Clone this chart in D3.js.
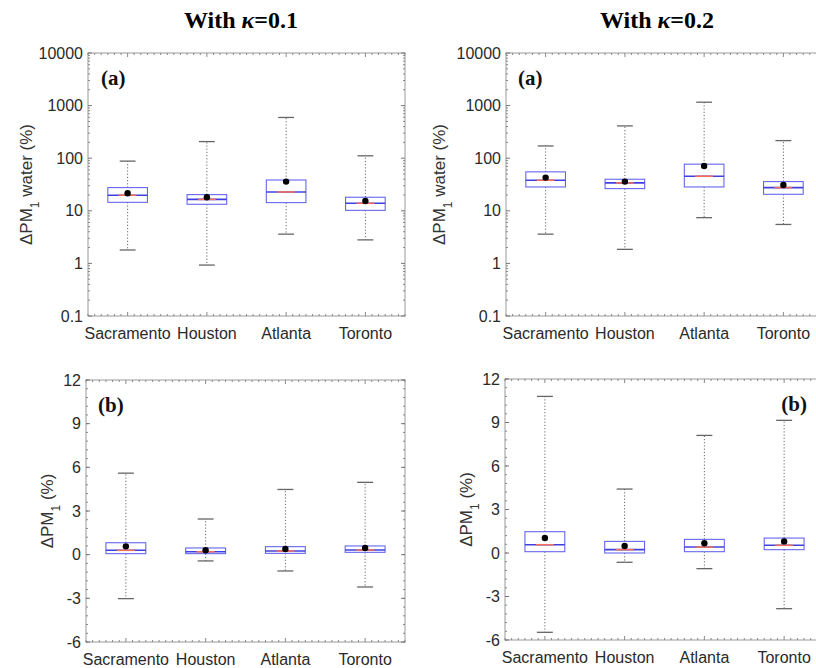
<!DOCTYPE html>
<html>
<head>
<meta charset="utf-8">
<script src="https://cdn.jsdelivr.net/npm/d3@7"></script>
<style>
	body { margin: 0; background: #fff; }
	svg { display: block; }
	.tick-label { font-family: "Liberation Sans", Arial, sans-serif; font-size: 16px; fill: #2a2a2a; }
	.ytitle { font-family: "Liberation Sans", Arial, sans-serif; font-size: 17px; fill: #333; }
	.title { font-family: "Liberation Serif", "Times New Roman", serif; font-size: 24px; font-weight: bold; fill: #000; }
	.plabel { font-family: "Liberation Serif", "Times New Roman", serif; font-size: 21px; font-weight: bold; fill: #111; }
</style>
</head>
<body>
<svg id="chart" width="816" height="668"></svg>
<script>
var cities = ["Sacramento", "Houston", "Atlanta", "Toronto"];

// panel (a): ΔPM1 water (%), log axis
var logTicks = [0.1, 1, 10, 100, 1000, 10000];
// [lower whisker, q1, median, q3, upper whisker, mean]
var waterK01 = [
	[1.8, 14.5, 19.8, 27.6, 88, 21.6],
	[0.93, 13.3, 16.5, 20.3, 207, 18.1],
	[3.6, 14.3, 22.8, 38.5, 595, 35.9],
	[2.8, 10.2, 13.9, 18.1, 111, 15.4]
];
var waterK02 = [
	[3.6, 28.4, 38.1, 55, 171, 42.8],
	[1.85, 26.4, 33.9, 39.8, 411, 35.9],
	[7.4, 28.4, 45.4, 77, 1160, 71.3],
	[5.5, 20.6, 27.6, 35.9, 216, 31.0]
];

// panel (b): ΔPM1 (%), linear axis
var linTicks = [-6, -3, 0, 3, 6, 9, 12];
var pmK01 = [
	[-3.02, 0.07, 0.3, 0.82, 5.6, 0.57],
	[-0.43, 0.07, 0.2, 0.46, 2.45, 0.3],
	[-1.12, 0.09, 0.25, 0.55, 4.48, 0.39],
	[-2.22, 0.16, 0.32, 0.6, 4.97, 0.46]
];
var pmK02 = [
	[-5.47, 0.09, 0.57, 1.47, 10.8, 1.03],
	[-0.64, 0.0, 0.23, 0.8, 4.41, 0.48],
	[-1.08, 0.09, 0.41, 0.94, 8.11, 0.67],
	[-3.84, 0.23, 0.53, 1.03, 9.15, 0.8]
];

var svg = d3.select("#chart");

function drawPanel(p) {
	var g = svg.append("g");
	var x = d3.scaleLinear().domain([0.5, 4.5]).range([p.x0, p.x1]);
	var y = p.log
		? d3.scaleLog().domain([0.1, 10000]).range([p.y1, p.y0])
		: d3.scaleLinear().domain([-6, 12]).range([p.y1, p.y0]);

	// frame
	g.append("rect")
		.attr("x", p.x0).attr("y", p.y0)
		.attr("width", p.x1 - p.x0).attr("height", p.y1 - p.y0)
		.attr("fill", "none").attr("stroke", "#9a9a9a").attr("stroke-width", 1);

	// minor ticks on x (top and bottom)
	var xMinor = d3.range(0.5, 4.5001, 1 / 12);
	xMinor.forEach(function(v) {
		var major = Math.abs(v - Math.round(v)) < 1e-6;
		var len = major ? 4 : 2;
		g.append("line").attr("x1", x(v)).attr("x2", x(v))
			.attr("y1", p.y1).attr("y2", p.y1 - len).attr("stroke", "#888");
		g.append("line").attr("x1", x(v)).attr("x2", x(v))
			.attr("y1", p.y0).attr("y2", p.y0 + len).attr("stroke", "#888");
	});

	// y ticks
	var yMajor = p.log ? logTicks : linTicks;
	var yMinor = [];
	if (p.log) {
		for (var e = -1; e < 4; e++)
			for (var k = 2; k < 10; k++) yMinor.push(k * Math.pow(10, e));
	} else {
		yMinor = d3.range(-6, 12.001, 0.6);
	}
	yMinor.forEach(function(v) {
		g.append("line").attr("x1", p.x0).attr("x2", p.x0 + 2)
			.attr("y1", y(v)).attr("y2", y(v)).attr("stroke", "#888");
		g.append("line").attr("x1", p.x1).attr("x2", p.x1 - 2)
			.attr("y1", y(v)).attr("y2", y(v)).attr("stroke", "#888");
	});
	yMajor.forEach(function(v) {
		g.append("line").attr("x1", p.x0).attr("x2", p.x0 + 4)
			.attr("y1", y(v)).attr("y2", y(v)).attr("stroke", "#777");
		g.append("line").attr("x1", p.x1).attr("x2", p.x1 - 4)
			.attr("y1", y(v)).attr("y2", y(v)).attr("stroke", "#777");
		g.append("text").attr("class", "tick-label")
			.attr("x", p.x0 - 5).attr("y", y(v)).attr("dy", "0.35em")
			.attr("text-anchor", "end")
			.text(v);
	});

	// category labels
	cities.forEach(function(c, i) {
		g.append("text").attr("class", "tick-label")
			.attr("x", x(i + 1)).attr("y", p.y1 + 23)
			.attr("text-anchor", "middle").text(c);
	});

	// boxes
	var bw = x(1.25) - x(1);   // half box width
	var cw = x(1.1) - x(1);    // half cap width
	var boxes = g.selectAll("g.box").data(p.data).enter().append("g").attr("class", "box");
	boxes.each(function(d, i) {
		var s = d3.select(this), cx = x(i + 1);
		// whiskers
		s.append("line").attr("x1", cx).attr("x2", cx)
			.attr("y1", y(d[3])).attr("y2", y(d[4]))
			.attr("stroke", "#666").attr("stroke-dasharray", "1.2,2");
		s.append("line").attr("x1", cx).attr("x2", cx)
			.attr("y1", y(d[1])).attr("y2", y(d[0]))
			.attr("stroke", "#666").attr("stroke-dasharray", "1.2,2");
		// caps
		[d[0], d[4]].forEach(function(v) {
			s.append("line").attr("x1", cx - cw).attr("x2", cx + cw)
				.attr("y1", y(v)).attr("y2", y(v))
				.attr("stroke", "#666").attr("stroke-width", 1.3);
		});
		// box
		s.append("rect").attr("x", cx - bw).attr("y", y(d[3]))
			.attr("width", 2 * bw).attr("height", y(d[1]) - y(d[3]))
			.attr("fill", "none").attr("stroke", "#6666ee").attr("stroke-width", 1.1);
		// median
		s.append("line").attr("x1", cx - bw).attr("x2", cx + bw)
			.attr("y1", y(d[2])).attr("y2", y(d[2]))
			.attr("stroke", "#4040e0").attr("stroke-width", 1.6);
		s.append("line").attr("x1", cx - bw * 0.45).attr("x2", cx + bw * 0.45)
			.attr("y1", y(d[2])).attr("y2", y(d[2]))
			.attr("stroke", "#f07060").attr("stroke-width", 1.6);
		// mean
		s.append("circle").attr("cx", cx).attr("cy", y(d[5])).attr("r", 3.2).attr("fill", "#000");
	});

	// panel label
	g.append("text").attr("class", "plabel")
		.attr("x", p.labelX).attr("y", p.y0 + 32)
		.attr("text-anchor", p.labelAnchor || "start")
		.text(p.label);

	// y axis title
	var yt = g.append("text").attr("class", "ytitle")
		.attr("transform", "translate(" + p.ytX + "," + ((p.y0 + p.y1) / 2) + ") rotate(-90)")
		.attr("text-anchor", "middle");
	yt.append("tspan").text("ΔPM");
	yt.append("tspan").attr("baseline-shift", "sub").style("font-size", "12px").text("1");
	yt.append("tspan").text(p.log ? " water (%)" : " (%)");
}

drawPanel({ x0: 88, x1: 405, y0: 53, y1: 316, log: true, data: waterK01, label: "(a)", labelX: 101, ytX: 32 });
drawPanel({ x0: 506, x1: 823, y0: 53, y1: 316, log: true, data: waterK02, label: "(a)", labelX: 518, ytX: 445 });
drawPanel({ x0: 86, x1: 405, y0: 380, y1: 642, log: false, data: pmK01, label: "(b)", labelX: 98, ytX: 53 });
drawPanel({ x0: 505, x1: 824, y0: 379, y1: 640, log: false, data: pmK02, label: "(b)", labelX: 807, labelAnchor: "end", ytX: 472 });

// column titles
[["0.1", 241], ["0.2", 657]].forEach(function(t) {
	var tt = svg.append("text").attr("class", "title")
		.attr("x", t[1]).attr("y", 28).attr("text-anchor", "middle");
	tt.append("tspan").text("With ");
	tt.append("tspan").style("font-style", "italic").text("κ");
	tt.append("tspan").text("=" + t[0]);
});
</script>
</body>
</html>
